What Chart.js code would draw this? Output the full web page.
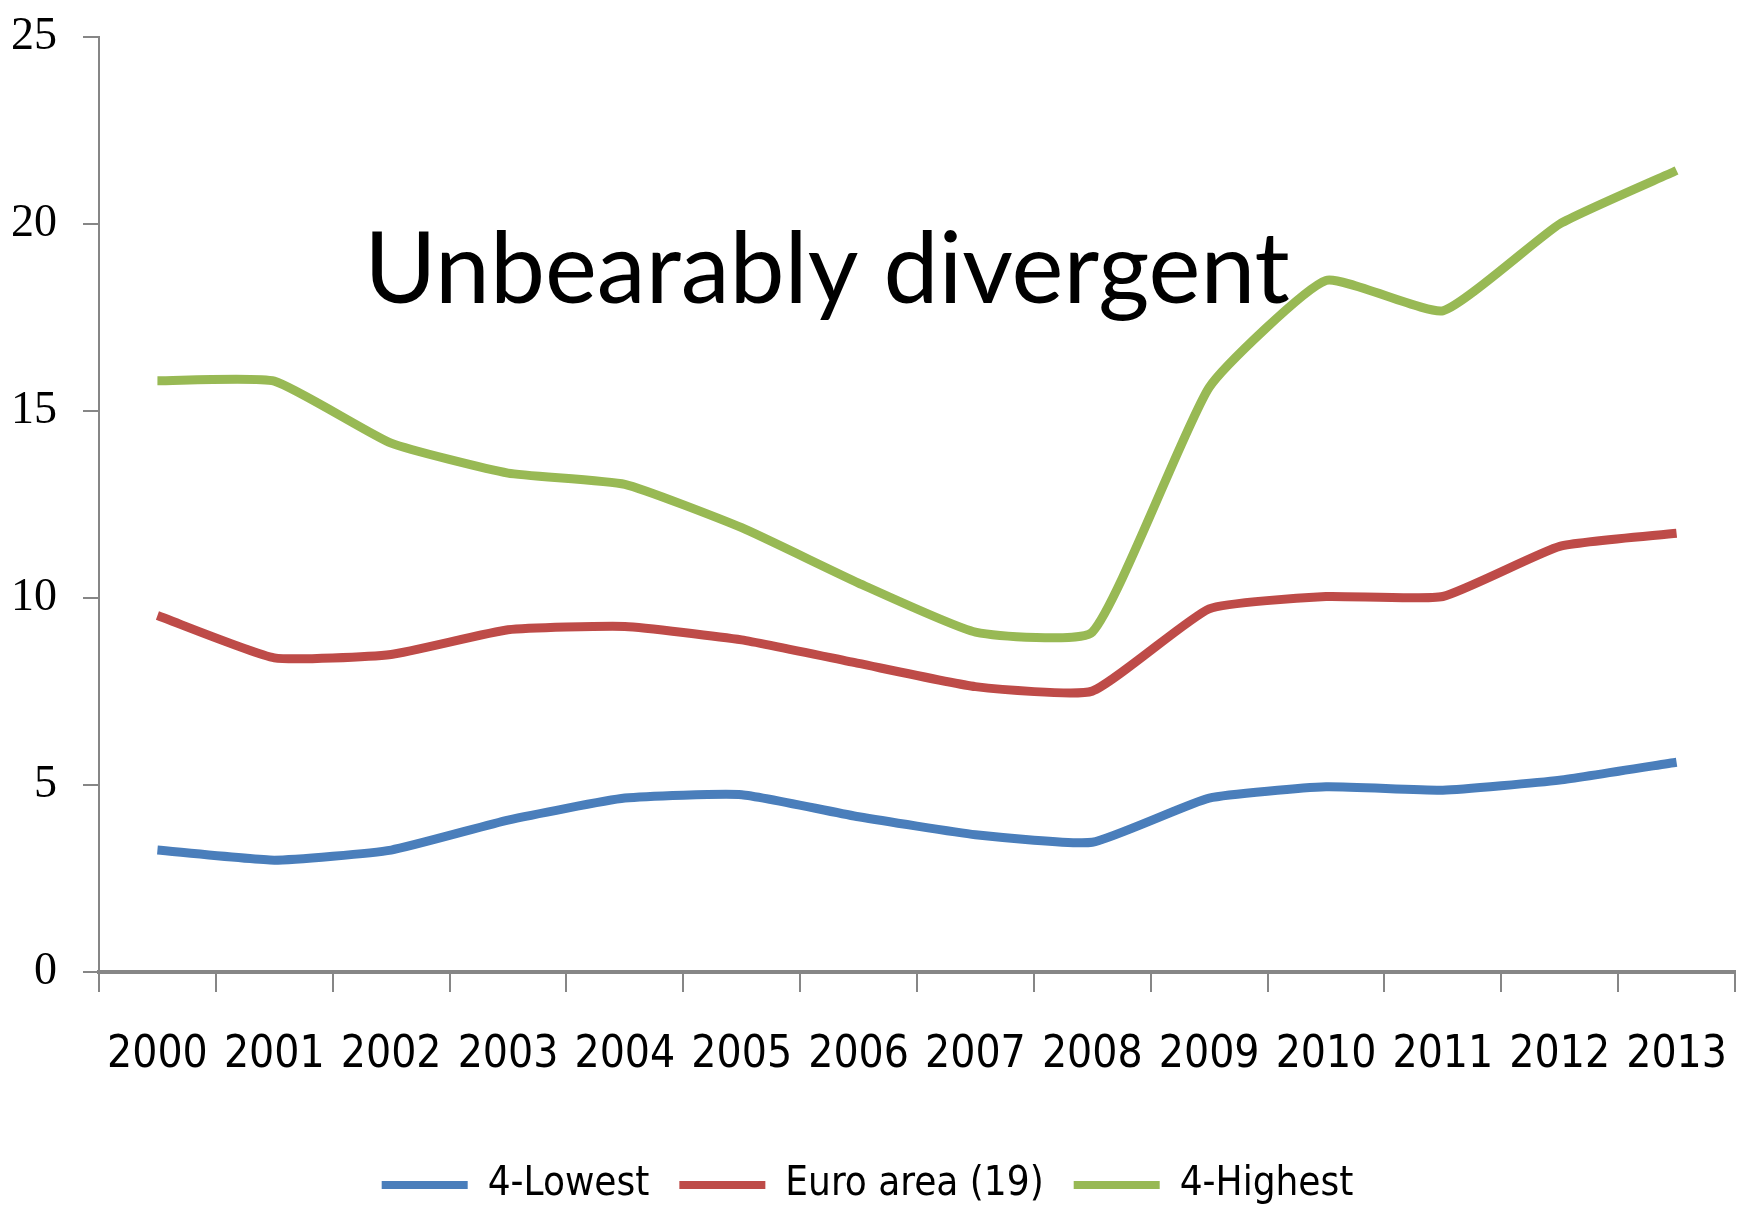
<!DOCTYPE html>
<html>
<head>
<meta charset="utf-8">
<script src="https://cdn.jsdelivr.net/npm/chart.js@4"></script>
<style>
html,body{margin:0;padding:0;background:#fff;}
#wrap{width:1746px;height:1208px;position:relative;}
</style>
</head>
<body>
<div id="wrap"><canvas id="c" width="1746" height="1208"></canvas></div>
<script>
const categories = ['2000','2001','2002','2003','2004','2005','2006','2007','2008','2009','2010','2011','2012','2013'];
const lowest4 = [3.26, 2.99, 3.26, 4.06, 4.65, 4.74, 4.15, 3.67, 3.47, 4.65, 4.95, 4.86, 5.13, 5.61];
const euroArea = [9.53, 8.40, 8.49, 9.15, 9.24, 8.88, 8.25, 7.63, 7.51, 9.71, 10.04, 10.04, 11.38, 11.73];
const highest4 = [15.81, 15.80, 14.14, 13.34, 13.04, 11.88, 10.40, 9.09, 9.09, 15.63, 18.49, 17.68, 20.00, 21.43];
const seriesNames = ['4-Lowest', 'Euro area (19)', '4-Highest'];
const yTicks = [0, 5, 10, 15, 20, 25];
const annotationText = 'Unbearably divergent';

const narrow = '"Liberation Sans Narrow", "DejaVu Sans Condensed", "Liberation Sans", sans-serif';

const titlePlugin = {
  id: 'overlayTitle',
  afterDatasetsDraw(chart) {
    const ctx = chart.ctx;
    ctx.save();
    ctx.font = '100px Lato, "Open Sans", sans-serif';
    const w = ctx.measureText(annotationText).width;
    const size = 100 * 926 / w;
    ctx.font = size.toFixed(1) + 'px Lato, "Open Sans", sans-serif';
    ctx.fillStyle = '#000';
    ctx.textAlign = 'center';
    ctx.textBaseline = 'alphabetic';
    ctx.fillText(annotationText, 827, 303);
    ctx.restore();
  }
};

const mk = (label, data, color) => ({
  label, data,
  borderColor: color, backgroundColor: color,
  borderWidth: 9, pointRadius: 0, pointHoverRadius: 0,
  tension: 0.15, fill: false, borderCapStyle: 'butt'
});

new Chart(document.getElementById('c'), {
  type: 'line',
  data: {
    labels: categories,
    datasets: [
      mk(seriesNames[0], lowest4, '#4A7EBB'),
      mk(seriesNames[1], euroArea, '#BE4B48'),
      mk(seriesNames[2], highest4, '#98B954')
    ]
  },
  plugins: [titlePlugin],
  options: {
    responsive: false,
    animation: false,
    events: [],
    layout: { padding: { top: 37, right: 11, left: 0, bottom: -7 } },
    plugins: {
      title: { display: false },
      tooltip: { enabled: false },
      legend: {
        display: true,
        position: 'bottom',
        labels: {
          boxWidth: 86, boxHeight: 8, padding: 30,
          color: '#000',
          font: { family: narrow, size: 40 },
          generateLabels(chart) {
            return chart.data.datasets.map((d, i) => ({
              text: d.label, fillStyle: d.borderColor, strokeStyle: d.borderColor,
              lineWidth: 0, hidden: false, datasetIndex: i, fontColor: '#000'
            }));
          }
        }
      }
    },
    scales: {
      x: {
        type: 'category',
        offset: true,
        grid: { offset: true, drawOnChartArea: false, drawTicks: true, tickLength: 20, color: '#868686', lineWidth: 2 },
        border: { display: true, color: '#868686', width: 4 },
        ticks: { color: '#000', padding: 37, maxRotation: 0, autoSkip: false, font: { family: narrow, size: 44 } },
        afterFit(s) { s.height = 163; s.paddingLeft = 0; s.paddingRight = 0; }
      },
      y: {
        min: 0, max: 25,
        afterBuildTicks(s) { s.ticks = yTicks.map(v => ({ value: v })); },
        grid: { drawOnChartArea: false, drawTicks: true, tickLength: 16, color: '#868686', lineWidth: 2 },
        border: { display: true, color: '#868686', width: 2 },
        ticks: { color: '#000', padding: 26, font: { family: '"Liberation Serif", "DejaVu Serif", serif', size: 46 } },
        afterFit(s) { s.width = 99; s.paddingTop = 0; s.paddingBottom = 0; }
      }
    }
  }
});
</script>
</body>
</html>
